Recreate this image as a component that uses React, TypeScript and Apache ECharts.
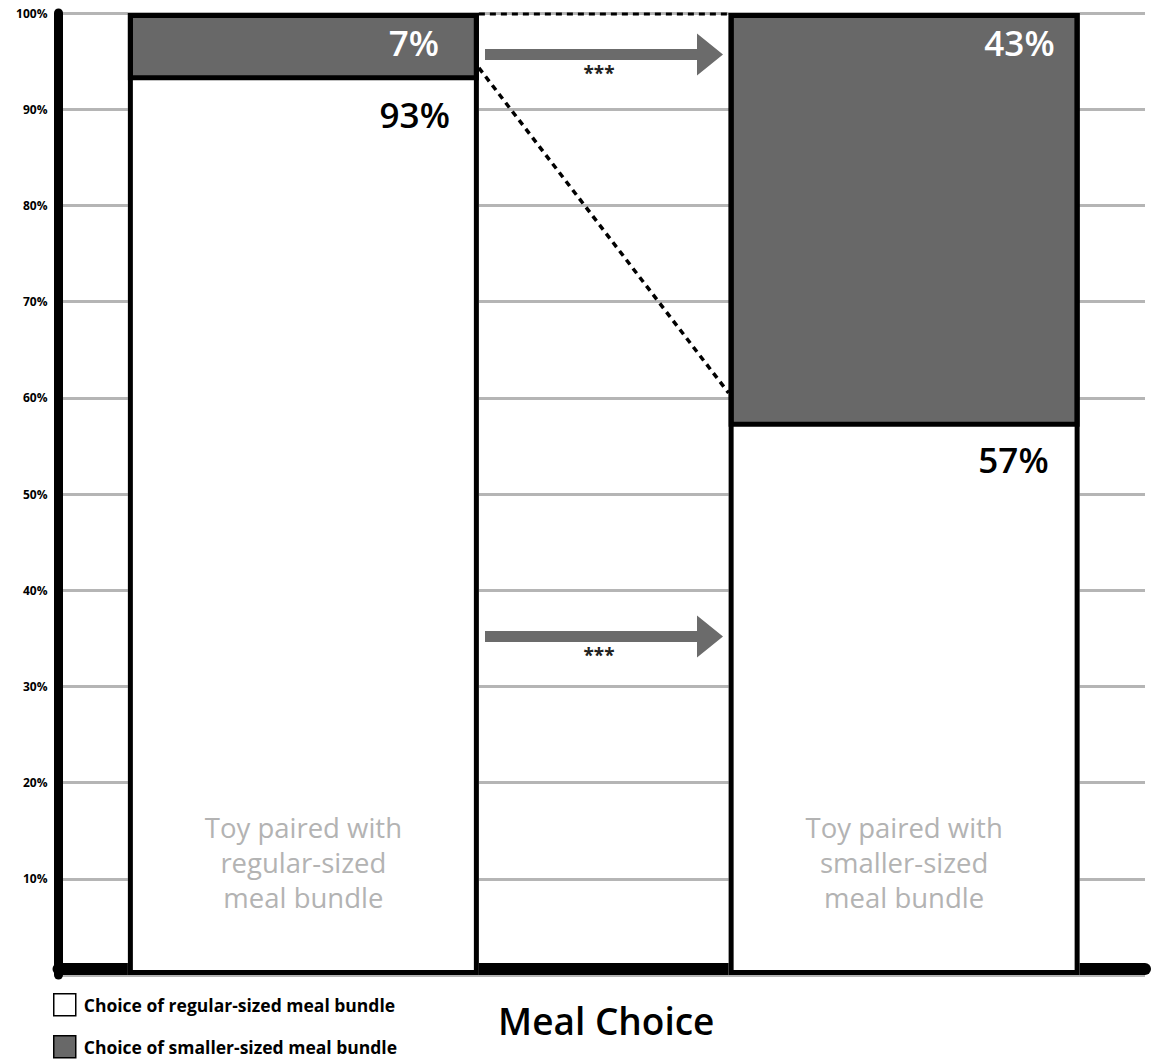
import React, { useEffect, useRef } from "react";
import * as echarts from "echarts";

const categories = [
  "Toy paired with\nregular-sized\nmeal bundle",
  "Toy paired with\nsmaller-sized\nmeal bundle",
];
const regularShare = [93, 57];
const smallerShare = [7, 43];
const seriesNames = [
  "Choice of regular-sized meal bundle",
  "Choice of smaller-sized meal bundle",
];
const yTicks = [0, 10, 20, 30, 40, 50, 60, 70, 80, 90, 100];
const diagFrom = 94.3;
const diagTo = 60.5;

const FONT = "'Open Sans', 'Noto Sans', sans-serif";
const BAR_W = 351;

export default function App() {
  const ref = useRef<HTMLDivElement>(null);
  useEffect(() => {
    document.body.style.margin = "0";
    const chart = echarts.init(ref.current!, null, { renderer: "svg" });
    const totals = regularShare.map((v, i) => v + smallerShare[i]);
    const regLabel = [
      { distance: 17, offset: [-12, 0] },
      { distance: 16, offset: [-15, -1] },
    ];
    const smlLabel = [
      { distance: 12, offset: [-28, 0] },
      { distance: 12, offset: [-13, 0] },
    ];
    const mkData = (arr: number[], lab: any[]) =>
      arr.map((v, k) => ({ value: v, label: lab[k] }));
    const legendText = {
      fontSize: 17.5,
      fontWeight: "bold",
      color: "#000",
      fontFamily: FONT,
      lineHeight: 22,
      padding: [0, 0, 0, 3],
    };
    const option: any = {
      animation: false,
      backgroundColor: "#fff",
      textStyle: { fontFamily: FONT },
      grid: [
        { left: 58.5, right: 10, top: 13, bottom: 84, containLabel: false },
        {
          left: 3,
          width: 1201.5,
          top: 13,
          bottom: 84,
          containLabel: false,
          outerBoundsMode: "none",
        },
      ],
      xAxis: [
        {
          gridIndex: 0,
          type: "category",
          data: ["a"],
          offset: -6,
          axisLine: { show: true, lineStyle: { color: "#000", width: 12 } },
          axisTick: { show: false },
          axisLabel: { show: false },
          splitLine: { show: false },
          name: "Meal Choice",
          nameLocation: "middle",
          nameGap: 33,
          nameTextStyle: {
            fontSize: 37,
            fontWeight: 600,
            color: "#000",
            fontFamily: FONT,
            padding: [0, 0, 0, 9],
          },
        },
        {
          gridIndex: 1,
          type: "category",
          data: categories,
          z: 10,
          axisLine: { show: false },
          axisTick: { show: false },
          splitLine: { show: false },
          axisLabel: {
            inside: true,
            interval: 0,
            margin: 60,
            color: "#b3b3b3",
            fontSize: 27.5,
            lineHeight: 35,
            fontFamily: FONT,
          },
        },
        {
          gridIndex: 1,
          type: "category",
          data: categories,
          show: false,
        },
      ],
      yAxis: [
        {
          gridIndex: 0,
          type: "value",
          min: yTicks[0],
          max: yTicks[yTicks.length - 1],
          interval: 10,
          axisLine: { show: true, lineStyle: { color: "#000", width: 9 } },
          axisTick: { show: false },
          axisLabel: {
            margin: 11,
            color: "#000",
            fontSize: 12,
            fontWeight: "bold",
            fontFamily: FONT,
            formatter: (v: number) => (v === 0 ? "" : v + "%"),
          },
          splitLine: { show: true, lineStyle: { color: "#b5b5b5", width: 3 } },
        },
        {
          gridIndex: 1,
          type: "value",
          min: 0,
          max: 100,
          show: false,
        },
      ],
      legend: [
        {
          left: 53,
          top: 993,
          padding: 0,
          itemWidth: 22,
          itemHeight: 22,
          icon: "rect",
          data: [seriesNames[0]],
          itemStyle: { borderColor: "#000", borderWidth: 1.5 },
          textStyle: legendText,
        },
        {
          left: 53,
          top: 1035,
          padding: 0,
          itemWidth: 22,
          itemHeight: 22,
          icon: "rect",
          data: [seriesNames[1]],
          itemStyle: { borderColor: "#000", borderWidth: 1.5 },
          textStyle: legendText,
        },
      ],
      series: [
        {
          name: seriesNames[0],
          type: "bar",
          xAxisIndex: 1,
          yAxisIndex: 1,
          stack: "s",
          barWidth: BAR_W,
          itemStyle: { color: "#fff", borderWidth: 0 },
          data: mkData(regularShare, regLabel),
          label: {
            show: true,
            position: "insideTopRight",
            formatter: "{c}%",
            color: "#000",
            fontSize: 35,
            fontWeight: 600,
            fontFamily: FONT,
          },
          z: 3,
        },
        {
          name: seriesNames[1],
          type: "bar",
          xAxisIndex: 1,
          yAxisIndex: 1,
          stack: "s",
          barWidth: BAR_W,
          itemStyle: { color: "#686868", borderColor: "#000", borderWidth: 5 },
          data: mkData(smallerShare, smlLabel),
          label: {
            show: true,
            position: "insideTopRight",
            formatter: "{c}%",
            color: "#fff",
            fontSize: 35,
            fontWeight: 600,
            fontFamily: FONT,
          },
          z: 3,
        },
        {
          name: "frame",
          type: "bar",
          xAxisIndex: 2,
          yAxisIndex: 1,
          barWidth: BAR_W,
          silent: true,
          itemStyle: { color: "rgba(0,0,0,0)", borderColor: "#000", borderWidth: 5 },
          data: totals,
          z: 4,
        },
      ],
    };
    chart.setOption(option);

    const c0 = chart.convertToPixel({ xAxisIndex: 1, yAxisIndex: 1 } as any, [0, 100]) as number[];
    const c1 = chart.convertToPixel({ xAxisIndex: 1, yAxisIndex: 1 } as any, [1, 100]) as number[];
    const x1 = c0[0] + BAR_W / 2;
    const x2 = c1[0] - BAR_W / 2;
    const yTop = c0[1];
    const yFrom = chart.convertToPixel({ yAxisIndex: 1 } as any, diagFrom) as number;
    const yTo = chart.convertToPixel({ yAxisIndex: 1 } as any, diagTo) as number;

    const arrow = (cy: number) => ({
      type: "polygon",
      z: 20,
      shape: {
        points: [
          [485, cy - 5.5],
          [697, cy - 5.5],
          [697, cy - 21],
          [723, cy],
          [697, cy + 21],
          [697, cy + 5.5],
          [485, cy + 5.5],
        ],
      },
      style: { fill: "#6b6b6b" },
    });
    const stars = (cy: number) => ({
      type: "text",
      z: 20,
      x: 599,
      y: cy,
      style: {
        text: "***",
        fontSize: 19,
        fontWeight: "bold",
        fill: "#222",
        fontFamily: FONT,
        align: "center",
        verticalAlign: "middle",
      },
    });

    chart.setOption({
      graphic: [
        {
          type: "line",
          z: 20,
          shape: { x1: x1, y1: yTop + 1, x2: x2, y2: yTop + 1 },
          style: { stroke: "#000", lineWidth: 3, lineDash: [6, 5] },
        },
        {
          type: "line",
          z: 20,
          shape: { x1: x1, y1: yFrom, x2: x2, y2: yTo },
          style: { stroke: "#000", lineWidth: 3.5, lineDash: [6, 5] },
        },
        arrow(54.5),
        stars(73),
        arrow(636.5),
        stars(655),
      ],
    });

    return () => chart.dispose();
  }, []);
  return <div ref={ref} style={{ width: 1155, height: 1059 }} />;
}
